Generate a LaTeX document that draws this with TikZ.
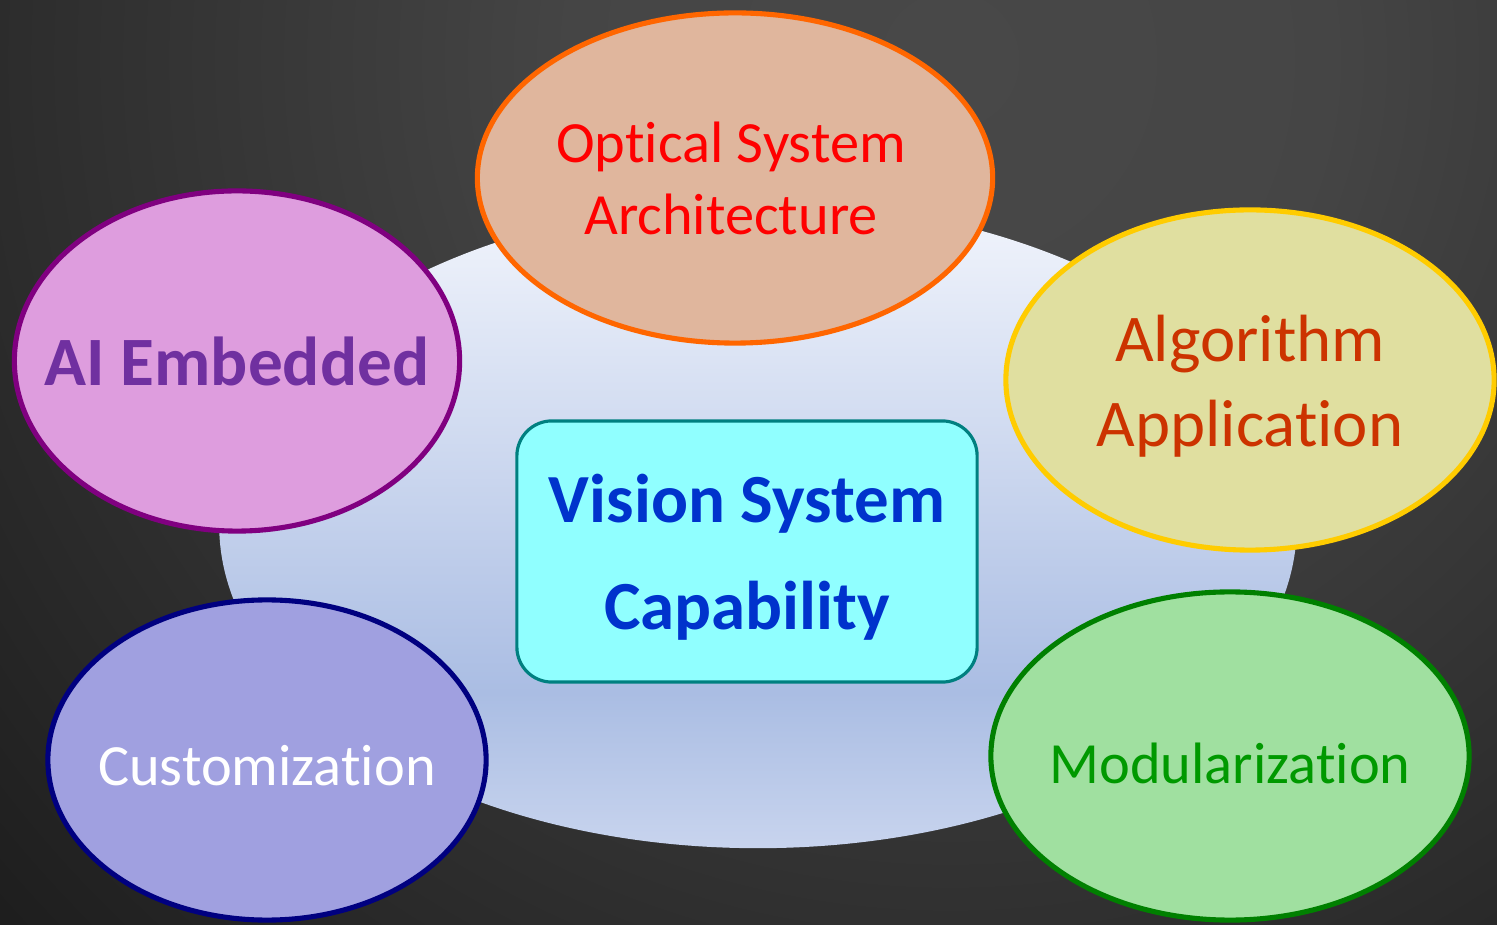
\documentclass[tikz,border=0pt]{standalone}
\usepackage{fontspec}
\setmainfont{Carlito}[Ligatures={NoCommon,NoRare,NoContextual}]
\usetikzlibrary{shapes.geometric}
\definecolor{bgin}{HTML}{484848}
\definecolor{bgout}{HTML}{121212}
\definecolor{elltop}{HTML}{F2F5FC}
\definecolor{ellmid}{HTML}{AABDE3}
\definecolor{ellbot}{HTML}{C8D4EE}
\pgfdeclareradialshading{bgshade}{\pgfpoint{0bp}{0bp}}{color(0bp)=(bgin); color(6bp)=(bgin!95!bgout); color(25bp)=(bgout); color(50bp)=(bgout)}
\pgfdeclareverticalshading{bigshade}{100bp}{color(0bp)=(ellbot); color(25bp)=(ellbot); color(37bp)=(ellmid); color(75bp)=(elltop); color(100bp)=(elltop)}
\tikzset{
  bubble/.style={ellipse, draw, line width=1.45pt, inner sep=0pt},
  label text/.style={align=center, inner sep=0pt},
  regtext/.style={font=\fontsize{16.6}{20.5}\selectfont},
}
\begin{document}
\begin{tikzpicture}[x=0.01cm,y=-0.01cm]
\useasboundingbox (0,0) rectangle (1497,925);
\begin{scope}
\clip (0,0) rectangle (1497,925);
\shade[shading=bgshade] (950,60) circle (15.5cm);
\end{scope}
% big background ellipse
\node[ellipse, shading=bigshade, minimum width=10.77cm, minimum height=6.46cm, inner sep=0pt] (base) at (758,525) {};
% central box
\node[draw={rgb,255:red,0;green,128;blue,128}, line width=0.9pt, fill={rgb,255:red,144;green,255;blue,255}, rounded corners=0.35cm, minimum width=4.6cm, minimum height=2.61cm, inner sep=0pt] (core) at (747,551.5) {};
\node[label text, text={rgb,255:red,0;green,51;blue,204}, font=\bfseries\fontsize{19.6}{30.4}\selectfont] (coretext) at ([yshift=-0.06cm]core.center) {Vision System\\Capability};
% satellites
\node[bubble, draw={rgb,255:red,255;green,102;blue,0}, fill={rgb,255:red,224;green,182;blue,157}, minimum width=5.15cm, minimum height=3.3cm] (optical) at (735,178) {};
\node[label text, text=red, regtext] (opticaltext) at ([xshift=-0.04cm]optical.center) {Optical System\\Architecture};
\node[bubble, draw={rgb,255:red,128;green,0;blue,128}, fill={rgb,255:red,222;green,157;blue,222}, minimum width=4.45cm, minimum height=3.4cm] (ai) at (237,361) {};
\node[label text, text={rgb,255:red,112;green,48;blue,160}, font=\bfseries\fontsize{19.7}{24}\selectfont] (aitext) at (ai.center) {AI Embedded};
\node[bubble, draw={rgb,255:red,255;green,204;blue,0}, fill={rgb,255:red,224;green,223;blue,160}, minimum width=4.88cm, minimum height=3.4cm] (algo) at (1250,380) {};
\node[label text, text={rgb,255:red,204;green,51;blue,0}, font=\fontsize{19}{24.2}\selectfont] (algotext) at ([yshift=-0.06cm]algo.center) {Algorithm\\Application};
\node[bubble, draw={rgb,255:red,0;green,0;blue,128}, fill={rgb,255:red,160;green,160;blue,224}, minimum width=4.38cm, minimum height=3.2cm] (custom) at (267,760) {};
\node[label text, text=white, regtext] (customtext) at ([yshift=-0.06cm]custom.center) {Customization};
\node[bubble, draw={rgb,255:red,0;green,128;blue,0}, fill={rgb,255:red,160;green,224;blue,160}, minimum width=4.78cm, minimum height=3.28cm] (modular) at (1230,756) {};
\node[label text, text={rgb,255:red,0;green,153;blue,0}, regtext] (modulartext) at ([yshift=-0.07cm]modular.center) {Modularization};
\end{tikzpicture}
\end{document}
